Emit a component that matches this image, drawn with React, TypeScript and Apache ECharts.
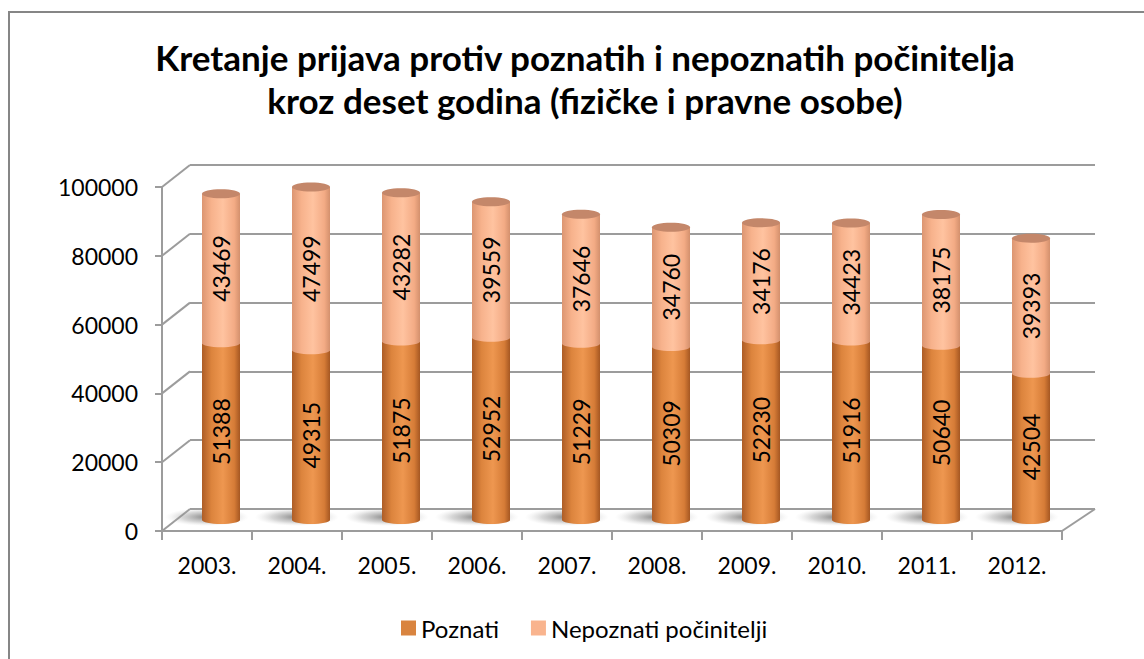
import React, { useEffect, useRef } from "react";
import * as echarts from "echarts";

const titleLines = [
  "Kretanje prijava protiv poznatih i nepoznatih počinitelja",
  "kroz deset godina (fizičke i pravne osobe)",
];
const categories = ["2003.", "2004.", "2005.", "2006.", "2007.", "2008.", "2009.", "2010.", "2011.", "2012."];
const poznati = [51388, 49315, 51875, 52952, 51229, 50309, 52230, 51916, 50640, 42504];
const nepoznati = [43469, 47499, 43282, 39559, 37646, 34760, 34176, 34423, 38175, 39393];
const yTicks = [0, 20000, 40000, 60000, 80000, 100000];
const seriesNames = ["Poznati", "Nepoznati počinitelji"];

const FONT = "Lato, 'Open Sans', sans-serif";
const GRID_COLOR = "#9c9c9c";
const DX = 28;
const DY = 22;

export default function App() {
  const ref = useRef<HTMLDivElement>(null);
  useEffect(() => {
    if (!ref.current) return;
    const chart = echarts.init(ref.current, null, { renderer: "svg" });
    const G = echarts.graphic;

    const darkGrad = () =>
      new G.LinearGradient(0, 0, 1, 0, [
        { offset: 0, color: "#ad5d27" },
        { offset: 0.25, color: "#dc843d" },
        { offset: 0.55, color: "#ee9750" },
        { offset: 0.85, color: "#d67c37" },
        { offset: 1, color: "#a55722" },
      ]);
    const lightGrad = () =>
      new G.LinearGradient(0, 0, 1, 0, [
        { offset: 0, color: "#dc9672" },
        { offset: 0.25, color: "#f7b28c" },
        { offset: 0.55, color: "#ffc3a0" },
        { offset: 0.85, color: "#f3ab85" },
        { offset: 1, color: "#d3906d" },
      ]);

    const BAR_W = 38;

    const renderCyl = (params: any, api: any) => {
      const i = api.value(0);
      const val = api.value(1);
      const base = params.seriesIndex === 1 ? api.value(2) : 0;
      const pb = api.coord([i, base]);
      const pt = api.coord([i, base + val]);
      const cx = pb[0];
      const yb = pb[1];
      const yt = pt[1];
      const left = cx - BAR_W / 2;
      const children: any[] = [];
      const isLower = params.seriesIndex === 0;
      if (isLower) {
        children.push({
          type: "ellipse",
          shape: { cx: cx - 14, cy: yb - 3, rx: 42, ry: 9 },
          style: {
            fill: new G.RadialGradient(0.5, 0.5, 0.5, [
              { offset: 0, color: "rgba(90,90,90,0.75)" },
              { offset: 0.6, color: "rgba(140,140,140,0.35)" },
              { offset: 1, color: "rgba(200,200,200,0)" },
            ]),
          },
        });
      }
      const grad = isLower ? darkGrad() : lightGrad();
      children.push({
        type: "ellipse",
        shape: { cx, cy: yb, rx: BAR_W / 2, ry: 4 },
        style: { fill: grad },
      });
      children.push({
        type: "rect",
        shape: { x: left, y: yt, width: BAR_W, height: yb - yt },
        style: { fill: isLower ? darkGrad() : lightGrad() },
      });
      if (!isLower) {
        children.push({
          type: "ellipse",
          shape: { cx, cy: yt, rx: BAR_W / 2, ry: 4.5 },
          style: { fill: "#c4876a" },
        });
      }
      children.push({
        type: "text",
        x: cx,
        y: (yb + yt) / 2,
        rotation: Math.PI / 2,
        style: {
          text: String(val),
          fontSize: 23,
          fontFamily: FONT,
          fill: "#000",
          align: "center",
          verticalAlign: "middle",
        },
      });
      return { type: "group", children };
    };

    const renderFrame = (params: any, api: any) => {
      const v = api.value(1);
      const cs = params.coordSys;
      const p = api.coord([0, v]);
      const children: any[] = [
        {
          type: "line",
          shape: { x1: cs.x, y1: p[1], x2: cs.x + DX, y2: p[1] - DY },
          style: { stroke: GRID_COLOR, lineWidth: 2 },
        },
      ];
      if (v === 0) {
        children.push({
          type: "line",
          shape: { x1: cs.x + cs.width, y1: p[1], x2: cs.x + cs.width + DX + 5, y2: p[1] - DY },
          style: { stroke: GRID_COLOR, lineWidth: 2 },
        });
      }
      return { type: "group", children };
    };

    const axisFont = { fontFamily: FONT, fontSize: 23, color: "#000" };

    chart.setOption({
      animation: false,
      backgroundColor: "#fff",
      title: {
        text: titleLines.join("\n"),
        left: 580,
        top: 30,
        textAlign: "center",
        textStyle: {
          fontFamily: FONT,
          fontSize: 35,
          fontWeight: "bold",
          color: "#000",
          lineHeight: 43,
        },
      },
      graphic: [
        {
          type: "rect",
          shape: { x: 9, y: 12, width: 1160, height: 680 },
          style: { fill: "none", stroke: "#868686", lineWidth: 2 },
          silent: true,
          z: 100,
        },
      ],
      legend: {
        data: seriesNames,
        left: 396,
        top: 611,
        itemWidth: 15,
        itemHeight: 15,
        itemGap: 32,
        icon: "rect",
        textStyle: { fontFamily: FONT, fontSize: 24, color: "#000" },
      },
      grid: [
        { left: 162, top: 187, width: 900, height: 344 },
        { left: 190, top: 165, width: 905, height: 344 },
        { left: 176, top: 176, width: 900, height: 344 },
      ],
      xAxis: [
        {
          gridIndex: 0,
          type: "category",
          data: categories,
          axisLine: { show: true, lineStyle: { color: GRID_COLOR, width: 2 } },
          axisTick: { show: true, length: 9, lineStyle: { color: GRID_COLOR, width: 2 } },
          axisLabel: { ...axisFont, margin: 22 },
          splitLine: { show: false },
        },
        {
          gridIndex: 1,
          type: "category",
          data: categories,
          show: false,
        },
        {
          gridIndex: 2,
          type: "category",
          data: categories,
          show: false,
        },
      ],
      yAxis: [
        {
          gridIndex: 0,
          type: "value",
          min: 0,
          max: 100000,
          interval: 20000,
          axisLine: { show: true, lineStyle: { color: GRID_COLOR, width: 2 } },
          axisTick: { show: true, length: 7, lineStyle: { color: GRID_COLOR, width: 2 } },
          axisLabel: { ...axisFont, margin: 24, formatter: (v: number) => String(v) },
          splitLine: { show: false },
        },
        {
          gridIndex: 1,
          type: "value",
          min: 0,
          max: 100000,
          interval: 20000,
          axisLine: { show: false },
          axisTick: { show: false },
          axisLabel: { show: false },
          splitLine: { show: true, lineStyle: { color: GRID_COLOR, width: 2 } },
        },
        {
          gridIndex: 2,
          type: "value",
          min: 0,
          max: 100000,
          interval: 20000,
          show: false,
        },
      ],
      series: [
        {
          name: seriesNames[0],
          type: "custom",
          xAxisIndex: 2,
          yAxisIndex: 2,
          z: 5,
          itemStyle: { color: "#d9843f" },
          data: categories.map((_, i) => [i, poznati[i]]),
          renderItem: renderCyl,
        },
        {
          name: seriesNames[1],
          type: "custom",
          xAxisIndex: 2,
          yAxisIndex: 2,
          z: 6,
          itemStyle: { color: "#f9b48e" },
          data: categories.map((_, i) => [i, nepoznati[i], poznati[i]]),
          renderItem: renderCyl,
        },
        {
          name: "frame",
          type: "custom",
          xAxisIndex: 0,
          yAxisIndex: 0,
          z: 1,
          silent: true,
          data: yTicks.map((v) => [0, v]),
          renderItem: renderFrame,
        },
      ],
    });
    return () => chart.dispose();
  }, []);
  return (
    <div
      ref={ref}
      style={{ position: "fixed", left: 0, top: 0, width: 1144, height: 659 }}
    />
  );
}
